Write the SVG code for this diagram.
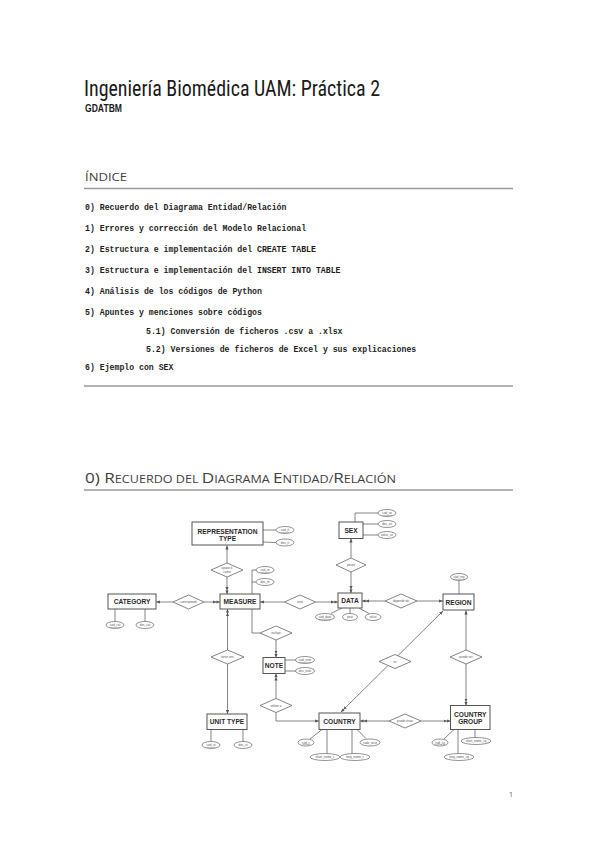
<svg xmlns="http://www.w3.org/2000/svg" width="599" height="848" viewBox="0 0 599 848">
<defs>
<style>
.rule{stroke:#9a9a9a;stroke-width:1.6;fill:none}
.idx{font-family:"Liberation Mono","DejaVu Sans Mono",monospace;font-weight:bold;font-size:8.2px;fill:#1e1e1e}
.ent rect{fill:#fff;stroke:#555;stroke-width:1}
.ent text{font-family:"Liberation Sans",Arial,sans-serif;font-weight:bold;font-size:6.6px;fill:#2a2a2a;text-anchor:middle}
.att ellipse{fill:#fff;stroke:#666;stroke-width:0.7}
.att text{font-family:"Liberation Sans",Arial,sans-serif;font-size:3px;fill:#555;text-anchor:middle}
.rel polygon{fill:#fff;stroke:#666;stroke-width:0.8}
.rel text{font-family:"Liberation Sans",Arial,sans-serif;font-size:3px;fill:#555;text-anchor:middle}
.pk{text-decoration:underline}
#connectors path{fill:none;stroke:#666;stroke-width:0.8}
</style>
<marker id="a1" viewBox="0 0 4 4" markerWidth="4" markerHeight="4" refX="4" refY="2" orient="auto-start-reverse" markerUnits="userSpaceOnUse"><path d="M0,0.4 L4,2 L0,3.6z" fill="#555"/></marker>
<marker id="a2" viewBox="0 0 7 4" markerWidth="7" markerHeight="4" refX="7" refY="2" orient="auto-start-reverse" markerUnits="userSpaceOnUse"><path d="M0,0.4 L3.5,2 L0,3.6z M3.5,0.4 L7,2 L3.5,3.6z" fill="#555"/></marker>
</defs>
<rect width="599" height="848" fill="#fff"/>

<g id="page">
<text x="84" y="96" font-family="'Liberation Sans Narrow','Roboto Condensed','Liberation Sans',sans-serif" font-size="22" fill="#1a1a1a" textLength="296" lengthAdjust="spacingAndGlyphs">Ingeniería Biomédica UAM: Práctica 2</text>
<text x="85" y="112" font-family="'Liberation Sans Narrow','Liberation Sans',sans-serif" font-size="10" font-weight="bold" fill="#1a1a1a" textLength="37" lengthAdjust="spacingAndGlyphs">GDATBM</text>
<text x="85" y="181" font-family="'Open Sans','Noto Sans',sans-serif" font-size="11.5" fill="#404040" textLength="42" lengthAdjust="spacingAndGlyphs">ÍNDICE</text>
<line class="rule" x1="84" y1="188.5" x2="513" y2="188.5"/>
<text class="idx" x="85" y="210">0) Recuerdo del Diagrama Entidad/Relación</text>
<text class="idx" x="85" y="231">1) Errores y corrección del Modelo Relacional</text>
<text class="idx" x="85" y="252">2) Estructura e implementación del CREATE TABLE</text>
<text class="idx" x="85" y="273">3) Estructura e implementación del INSERT INTO TABLE</text>
<text class="idx" x="85" y="294">4) Análisis de los códigos de Python</text>
<text class="idx" x="85" y="315">5) Apuntes y menciones sobre códigos</text>
<text class="idx" x="146" y="334">5.1) Conversión de ficheros .csv a .xlsx</text>
<text class="idx" x="146" y="352">5.2) Versiones de ficheros de Excel y sus explicaciones</text>
<text class="idx" x="85" y="370">6) Ejemplo con SEX</text>
<line class="rule" x1="84" y1="386" x2="513" y2="386"/>
<text x="85" y="483" font-family="'Open Sans','Noto Sans',sans-serif" font-size="15" fill="#404040" textLength="311" lengthAdjust="spacingAndGlyphs">0) R<tspan font-size="11">ECUERDO DEL </tspan>D<tspan font-size="11">IAGRAMA </tspan>E<tspan font-size="11">NTIDAD/</tspan>R<tspan font-size="11">ELACIÓN</tspan></text>
<line class="rule" x1="84" y1="490" x2="513" y2="490"/>
<text x="509" y="797" font-family="'Open Sans','Noto Sans',sans-serif" font-size="7" fill="#555">1</text>
</g>

<g id="connectors">
<!-- relationships -->
<path d="M227,563 L227,545.5" marker-end="url(#a1)"/>
<path d="M227,577 L227,594" marker-end="url(#a2)"/>
<path d="M173,602 L156,602" marker-end="url(#a1)"/>
<path d="M204,602 L220,602" marker-end="url(#a2)"/>
<path d="M284.5,602 L260,602" marker-end="url(#a1)"/>
<path d="M315.5,602 L338,602" marker-end="url(#a2)"/>
<path d="M227.5,650 L227.5,609" marker-end="url(#a2)"/>
<path d="M227.5,664 L227.5,714" marker-end="url(#a1)"/>
<path d="M260,633 L252,633 L252,609"/>
<path d="M276,640 L276,657.5" marker-end="url(#a2)"/>
<path d="M276,698.5 L276,673.5" marker-end="url(#a2)"/>
<path d="M276,712.5 L276,721 L319,721" marker-end="url(#a1)"/>
<path d="M351,558 L351,538.5" marker-end="url(#a1)"/>
<path d="M351,572 L351,593" marker-end="url(#a2)"/>
<path d="M385,601 L362,601" marker-end="url(#a2)"/>
<path d="M417,601 L443,601" marker-end="url(#a1)"/>
<path d="M443,611 L341,712" marker-start="url(#a1)" marker-end="url(#a2)"/>
<path d="M466,650 L466,610.5" marker-end="url(#a1)"/>
<path d="M466,664 L466,705.5" marker-end="url(#a2)"/>
<path d="M389,721 L360,721" marker-end="url(#a2)"/>
<path d="M421,721 L450.5,721" marker-end="url(#a2)"/>
<!-- attributes -->
<path d="M263,530 L276,530"/>
<path d="M263,542 L276,542.5"/>
<path d="M252,594 L252,570 L256,570"/>
<path d="M252,582 L256,582"/>
<path d="M115,609 L115,621.5"/>
<path d="M145,609 L145,621.5"/>
<path d="M285,660 L296,660"/>
<path d="M285,671 L296,671"/>
<path d="M211,729.5 L211,741.5"/>
<path d="M243,729.5 L243,741.5"/>
<path d="M355,522 L355,513 L378,513"/>
<path d="M363,524 L378,524"/>
<path d="M363,535 L378,535"/>
<path d="M342,608 L331,613.5"/>
<path d="M350,608 L350,613.5"/>
<path d="M359,608 L369,613.5"/>
<path d="M459,580.5 L459,594"/>
<path d="M322,729.5 L310,739"/>
<path d="M327,729.5 L327,753.5"/>
<path d="M352,729.5 L352,753.5"/>
<path d="M357,729.5 L366,738.5"/>
<path d="M454,729.5 L444,739"/>
<path d="M458,729.5 L458,753.5"/>
<path d="M475,729.5 L475,737.5"/>
</g>

<!-- entities -->
<g id="representation-type" class="ent"><rect x="192" y="522" width="71" height="23"/><text x="227.5" y="533.5">REPRESENTATION</text><text x="227.5" y="541">TYPE</text></g>
<g id="measure" class="ent"><rect x="220" y="594" width="40" height="15"/><text x="240" y="604">MEASURE</text></g>
<g id="category" class="ent"><rect x="108" y="594" width="48" height="15"/><text x="132" y="604">CATEGORY</text></g>
<g id="note" class="ent"><rect x="263" y="657.5" width="22" height="16"/><text x="274" y="668">NOTE</text></g>
<g id="unit-type" class="ent"><rect x="207" y="714" width="40" height="15.5"/><text x="227" y="724">UNIT TYPE</text></g>
<g id="sex" class="ent"><rect x="339" y="522" width="24" height="16.5"/><text x="351" y="532.5">SEX</text></g>
<g id="data" class="ent"><rect x="338" y="593" width="24" height="15"/><text x="350" y="603">DATA</text></g>
<g id="region" class="ent"><rect x="443" y="594" width="31" height="16"/><text x="458.5" y="604.5">REGION</text></g>
<g id="country" class="ent"><rect x="319" y="713" width="41" height="16.5"/><text x="339.5" y="723.5">COUNTRY</text></g>
<g id="country-group" class="ent"><rect x="450.5" y="705.5" width="39.5" height="24"/><text x="470.3" y="716.8">COUNTRY</text><text x="470.3" y="723.8">GROUP</text></g>

<!-- relationships -->
<g id="rel-aparece" class="rel"><polygon points="211,570 227,563 243,570 227,577"/><text x="227" y="569.3">aparece</text><text x="227" y="572.8">como</text></g>
<g id="rel-corresponde" class="rel"><polygon points="173,602 188.5,595 204,602 188.5,609"/><text x="188.5" y="603">corresponde</text></g>
<g id="rel-esta" class="rel"><polygon points="284.5,602 300,595 315.5,602 300,609"/><text x="300" y="603">está</text></g>
<g id="rel-tiene" class="rel"><polygon points="211,657 227.5,650 244,657 227.5,664"/><text x="227.5" y="658">tiene una</text></g>
<g id="rel-incluye" class="rel"><polygon points="260,633 276,626 292,633 276,640"/><text x="276" y="634">incluye</text></g>
<g id="rel-refiere" class="rel"><polygon points="260,705.5 276,698.5 292,705.5 276,712.5"/><text x="276" y="706.5">refiere a</text></g>
<g id="rel-posee" class="rel"><polygon points="336,565 351,558 366,565 351,572"/><text x="351" y="566">posee</text></g>
<g id="rel-depende" class="rel"><polygon points="385,601 401,594 417,601 401,608"/><text x="401" y="602">depende de</text></g>
<g id="rel-es" class="rel"><polygon points="379,661.5 395,654.5 411,661.5 395,668.5"/><text x="395" y="662.5">es</text></g>
<g id="rel-puede-ser" class="rel"><polygon points="450,657 466,650 482,657 466,664"/><text x="466" y="658">puede ser</text></g>
<g id="rel-puede-estar" class="rel"><polygon points="389,721 405,714 421,721 405,728"/><text x="405" y="722">puede estar</text></g>

<!-- attributes -->
<g id="att-rt" class="att"><ellipse cx="285" cy="530" rx="9" ry="3.5"/><text class="pk" x="285" y="531">cod_rt</text><ellipse cx="285" cy="542.5" rx="9" ry="3.5"/><text x="285" y="543.5">des_rt</text></g>
<g id="att-measure" class="att"><ellipse cx="265" cy="570" rx="9" ry="3.5"/><text class="pk" x="265" y="571">cod_m</text><ellipse cx="265" cy="582" rx="9" ry="3.5"/><text x="265" y="583">des_m</text></g>
<g id="att-category" class="att"><ellipse cx="115" cy="625" rx="9" ry="3.5"/><text class="pk" x="115" y="626">cod_cat</text><ellipse cx="145" cy="625" rx="9" ry="3.5"/><text x="145" y="626">des_cat</text></g>
<g id="att-note" class="att"><ellipse cx="305" cy="660" rx="9.5" ry="3.5"/><text class="pk" x="305" y="661">cod_note</text><ellipse cx="305" cy="671" rx="9.5" ry="3.5"/><text x="305" y="672">des_note</text></g>
<g id="att-unit" class="att"><ellipse cx="211" cy="745" rx="9" ry="3.5"/><text class="pk" x="211" y="746">cod_ut</text><ellipse cx="243" cy="745" rx="9" ry="3.5"/><text x="243" y="746">des_ut</text></g>
<g id="att-sex" class="att"><ellipse cx="387" cy="513" rx="9" ry="3.5"/><text class="pk" x="387" y="514">cod_se</text><ellipse cx="387" cy="524" rx="9" ry="3.5"/><text x="387" y="525">des_se</text><ellipse cx="387" cy="535" rx="9" ry="3.5"/><text x="387" y="536">value_se</text></g>
<g id="att-data" class="att"><ellipse cx="325" cy="617" rx="9.5" ry="3.5"/><text class="pk" x="325" y="618">cod_data</text><ellipse cx="350" cy="617" rx="7.5" ry="3.5"/><text x="350" y="618">year</text><ellipse cx="373" cy="617" rx="8" ry="3.5"/><text x="373" y="618">value</text></g>
<g id="att-region" class="att"><ellipse cx="459" cy="577" rx="8.5" ry="3.5"/><text class="pk" x="459" y="578">cod_reg</text></g>
<g id="att-country" class="att"><ellipse cx="306" cy="742.5" rx="8" ry="3.5"/><text class="pk" x="306" y="743.5">cod_c</text><ellipse cx="325" cy="757" rx="15" ry="3.5"/><text x="325" y="758">short_name_c</text><ellipse cx="355" cy="757" rx="15" ry="3.5"/><text x="355" y="758">long_name_c</text><ellipse cx="370" cy="742.5" rx="10" ry="3.5"/><text x="370" y="743.5">code_wise</text></g>
<g id="att-country-group" class="att"><ellipse cx="440" cy="742.5" rx="8" ry="3.5"/><text class="pk" x="440" y="743.5">cod_cg</text><ellipse cx="476" cy="741" rx="15" ry="3.5"/><text x="476" y="742">short_name_cg</text><ellipse cx="459" cy="757" rx="15" ry="3.5"/><text x="459" y="758">long_name_cg</text></g>
</svg>
